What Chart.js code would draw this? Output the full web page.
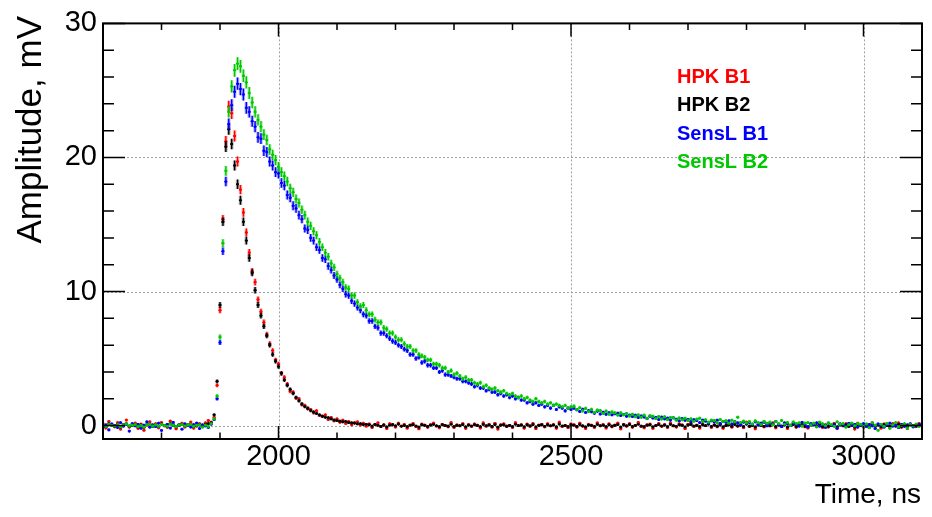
<!DOCTYPE html>
<html>
<head>
<meta charset="utf-8">
<script src="https://cdn.jsdelivr.net/npm/chart.js@4.4.1/dist/chart.umd.min.js"></script>
<style>
  html, body { margin: 0; padding: 0; background: #fff; }
</style>
</head>
<body>
<canvas id="myChart" width="932" height="517"></canvas>
<script>
// time bins (ns): first bin centre and bin width
const binStart = 1700;
const binWidth = 5;

// amplitudes in mV, one value per bin
const hpkB1 = [
  0.12, -0.18, 0.31, 0.02, -0.09, 0.22, -0.27, 0.08, 0.41, -0.12, 0.04, 0.19, -0.21, 0.11, -0.35, 0.03, 0.28, -0.08, 0.14, -0.17,
  0.23, -0.02, -0.13, 0.33, 0.09, -0.24, 0.01, 0.18, -0.11, 0.07, 0.26, -0.19, -0.04, 0.15, -0.07, 0.21, 0.38,
  0.25, 0.60, 3.00, 8.60, 15.40, 21.20, 23.80, 23.30, 21.60, 19.70, 17.60, 15.90, 14.40, 12.90, 11.50, 10.70, 9.40, 8.50, 7.70, 6.80,
  6.10, 5.60, 4.90, 4.60, 3.90, 3.60, 3.10, 2.55, 2.50, 2.05, 2.00, 1.55, 1.50, 1.25, 1.20, 0.95, 1.10, 0.75, 0.70, 0.80,
  0.45, 0.60, 0.35, 0.50, 0.25, 0.40, 0.15, 0.30, 0.05, 0.22, 0.28, 0.04, 0.18, -0.05,
  0.12, -0.15, 0.08, 0.21, -0.06, 0.03, -0.22, 0.14, 0.05, -0.11, 0.18, -0.03, 0.09, -0.19, 0.02, 0.16, -0.08, -0.24, 0.11, 0.04,
  -0.13, 0.07, 0.19, -0.05, -0.17, 0.10, 0.01, -0.09, 0.23, -0.14, 0.06, -0.02, 0.15, -0.21, 0.08, -0.07, 0.12, 0.03, -0.18, 0.20,
  -0.04, 0.09, -0.12, 0.17, -0.26, 0.05, 0.13, -0.08, 0.02, -0.15, 0.22, -0.01, 0.07, -0.19, 0.11, -0.06, 0.16, -0.23, 0.04, 0.10,
  -0.10, 0.14, -0.03, 0.08, -0.20, 0.25, -0.07, 0.01, -0.16, 0.12, 0.06, -0.12, 0.18, -0.05, -0.22, 0.09, 0.03, -0.14, 0.21, -0.02,
  0.07, -0.18, 0.13, -0.09, 0.04, 0.19, -0.25, 0.10, -0.04, 0.15, -0.13, 0.02, 0.24, -0.08, -0.17, 0.06, 0.11, -0.21, 0.00, 0.16,
  -0.06, 0.08, -0.15, 0.20, -0.02, -0.11, 0.13, 0.05, -0.23, 0.09, 0.17, -0.07, 0.03, -0.19, 0.12, -0.01, 0.22, -0.14, 0.06, -0.09,
  0.14, -0.20, 0.01, 0.10, -0.12, 0.18, -0.05, 0.07, -0.16, 0.25, -0.08, 0.03, -0.24, 0.11, 0.05, -0.10, 0.15, -0.03, 0.20, -0.17,
  0.09, -0.06, 0.12, -0.22, 0.04, 0.16, -0.13, 0.02, 0.19, -0.09, -0.18, 0.08, 0.13, -0.04, 0.23, -0.15, 0.06, -0.11, 0.01, 0.17,
  -0.21, 0.10, -0.02, 0.14, -0.08, 0.05, -0.26, 0.18, 0.03, -0.12, 0.09, -0.16, 0.21, -0.05, 0.07, -0.19, 0.12, 0.00, -0.10, 0.15,
  -0.04, 0.20, -0.13, 0.06, -0.22, 0.11, 0.02, -0.08, 0.16
];

const hpkB2 = [
  0.05, -0.08, 0.12, 0.02, -0.04, 0.09, -0.11, 0.06, 0.14, -0.03, 0.01, 0.08, -0.10, 0.04, -0.13, 0.07, 0.10, -0.05, 0.03, -0.07,
  0.11, 0.00, -0.06, 0.13, 0.02, -0.09, 0.05, 0.08, -0.02, 0.04, 0.10, -0.07, 0.01, 0.06, -0.04, 0.09, 0.15,
  0.20, 0.80, 3.30, 9.00, 15.20, 20.80, 22.10, 21.00, 19.40, 18.00, 16.80, 15.20, 13.80, 12.50, 11.40, 10.10, 9.00, 8.20, 7.40, 6.70,
  6.00, 5.30, 4.80, 4.40, 3.90, 3.40, 3.00, 2.70, 2.40, 2.10, 1.85, 1.62, 1.42, 1.30, 1.12, 1.02, 0.90, 0.80, 0.70, 0.62,
  0.58, 0.50, 0.42, 0.38, 0.33, 0.28, 0.30, 0.22, 0.20, 0.18, 0.12, 0.14, 0.08, 0.10,
  0.06, -0.04, 0.09, 0.02, -0.07, 0.05, -0.10, 0.03, 0.08, -0.02, 0.11, -0.05, 0.01, -0.08, 0.04, 0.07, -0.03, -0.11, 0.05, 0.02,
  -0.06, 0.03, 0.09, -0.01, -0.08, 0.06, 0.00, -0.04, 0.10, -0.07, 0.02, -0.01, 0.07, -0.09, 0.04, -0.03, 0.06, 0.01, -0.08, 0.09,
  -0.02, 0.04, -0.06, 0.08, -0.12, 0.03, 0.06, -0.04, 0.01, -0.07, 0.10, 0.00, 0.03, -0.09, 0.05, -0.02, 0.07, -0.10, 0.02, 0.05,
  -0.05, 0.06, -0.01, 0.04, -0.09, 0.11, -0.03, 0.00, -0.07, 0.05, 0.03, -0.06, 0.08, -0.02, -0.10, 0.04, 0.01, -0.06, 0.09, -0.01,
  0.03, -0.08, 0.06, -0.04, 0.02, 0.08, -0.11, 0.05, -0.02, 0.07, -0.06, 0.01, 0.10, -0.03, -0.08, 0.03, 0.05, -0.09, 0.00, 0.07,
  -0.03, 0.04, -0.07, 0.09, -0.01, -0.05, 0.06, 0.02, -0.10, 0.04, 0.08, -0.03, 0.01, -0.08, 0.05, 0.00, 0.10, -0.06, 0.03, -0.04,
  0.06, -0.09, 0.00, 0.05, -0.05, 0.08, -0.02, 0.03, -0.07, 0.11, -0.04, 0.01, -0.10, 0.05, 0.02, -0.05, 0.07, -0.01, 0.09, -0.08,
  0.04, -0.03, 0.05, -0.10, 0.02, 0.07, -0.06, 0.01, 0.08, -0.04, -0.08, 0.04, 0.06, -0.02, 0.10, -0.07, 0.03, -0.05, 0.00, 0.08,
  -0.09, 0.05, -0.01, 0.06, -0.04, 0.02, -0.11, 0.08, 0.01, -0.05, 0.04, -0.07, 0.09, -0.02, 0.03, -0.08, 0.05, 0.00, -0.04, 0.07,
  -0.02, 0.09, -0.06, 0.03, -0.10, 0.05, 0.01, -0.03, 0.07
];

const sensLB1 = [
  -0.10, 0.05, -0.32, 0.12, 0.02, -0.15, 0.22, -0.05, 0.08, -0.41, 0.15, -0.02, 0.09, -0.20, 0.03, 0.28, -0.12, 0.06, -0.08, 0.18,
  -0.36, 0.01, 0.10, -0.18, 0.24, -0.06, 0.04, -0.27, 0.13, 0.00, -0.11, 0.07, 0.19, -0.22, 0.05, -0.03, -0.14, 0.10,
  0.45, 2.0, 6.2, 13.0, 18.2, 22.5, 23.9, 24.9, 25.5, 25.1, 24.7, 23.7, 23.4, 22.7, 22.3, 21.5, 21.4, 20.5, 20.4, 19.7, 19.4, 18.9,
  18.8, 18.1, 17.9, 17.2, 17.0, 16.4, 16.2, 15.7, 15.4, 14.7, 14.6, 14.0, 13.8, 13.3, 13.1, 12.5, 12.4, 11.9, 11.6, 11.2,
  10.9, 10.5, 10.2, 9.8, 9.7, 9.3, 9.1, 8.8, 8.6, 8.3, 8.2, 7.8, 7.8, 7.4, 7.3, 6.9, 6.9, 6.7, 6.5, 6.3,
  6.2, 6.0, 5.9, 5.7, 5.6, 5.3, 5.3, 5.0, 5.1, 4.7, 4.8, 4.5, 4.5, 4.3, 4.3, 4.0, 4.1, 3.8, 3.8, 3.7,
  3.6, 3.5, 3.5, 3.3, 3.3, 3.2, 3.1, 2.9, 3.0, 2.8, 2.8, 2.6, 2.7, 2.5, 2.5, 2.3, 2.4, 2.2, 2.3, 2.1,
  2.2, 2.0, 2.1, 1.9, 1.9, 1.7, 1.8, 1.6, 1.7, 1.5, 1.6, 1.4, 1.5, 1.3, 1.5, 1.2, 1.4, 1.3, 1.1, 1.3, 1.2,
  1.30, 1.18, 1.05, 1.22, 0.98, 1.12, 1.04, 0.92, 1.08, 0.87, 0.99, 0.84, 0.95, 0.80, 0.88, 0.92, 0.75, 0.83, 0.70, 0.78,
  0.68, 0.77, 0.60, 0.71, 0.64, 0.52, 0.69, 0.57, 0.61, 0.45, 0.63, 0.50, 0.56, 0.42, 0.58, 0.47, 0.35, 0.52, 0.40, 0.46,
  0.30, 0.44, 0.38, 0.22, 0.41, 0.33, 0.18, 0.36, 0.27, 0.40, 0.15, 0.31, 0.24, 0.35, 0.12, 0.29, 0.20, 0.07, 0.26, 0.16,
  0.23, 0.10, 0.28, 0.04, 0.19, 0.25, -0.02, 0.17, 0.11, 0.30, 0.06, -0.08, 0.21, 0.14, 0.00, 0.18, 0.09, -0.05, 0.24, 0.07,
  -0.10, 0.15, 0.05, 0.20, -0.04, 0.11, -0.14, 0.18, 0.02, 0.08, -0.20, 0.13, 0.04, -0.07, 0.17, 0.01, 0.10, -0.12, 0.06, 0.15,
  -0.08, 0.09, -0.02, -0.22, 0.12, 0.04, -0.12, 0.07, 0.18, -0.04, 0.02, -0.16, 0.10, -0.06, 0.05, 0.13, -0.10, 0.03, 0.08
];

const sensLB2 = [
  0.04, -0.06, 0.10, 0.01, -0.03, 0.08, -0.09, 0.05, 0.12, -0.02, 0.03, 0.07, -0.08, 0.02, -0.11, 0.06, 0.09, -0.04, 0.05, -0.06,
  0.10, 0.00, -0.05, 0.11, 0.03, -0.08, 0.04, 0.07, -0.03, 0.05, 0.09, -0.06, 0.02, 0.06, -0.12, 0.04, -0.07, 0.15,
  0.5, 2.2, 6.6, 13.6, 19.0, 23.4, 25.3, 26.5, 27.0, 26.8, 26.1, 25.6, 24.8, 24.1, 23.4, 22.8, 22.3, 21.7, 21.3, 20.6, 20.2, 19.8,
  19.3, 18.9, 18.6, 18.2, 17.7, 17.4, 16.9, 16.6, 16.1, 15.7, 15.2, 14.9, 14.5, 14.2, 13.7, 13.3, 12.9, 12.6, 12.1, 11.8,
  11.3, 11.0, 10.7, 10.3, 10.2, 9.7, 9.7, 9.2, 8.9, 9.0, 8.6, 8.3, 8.3, 7.9, 7.7, 7.7, 7.3, 7.2, 6.9, 6.9,
  6.6, 6.4, 6.4, 6.1, 5.9, 5.9, 5.6, 5.6, 5.3, 5.2, 5.1, 4.9, 4.9, 4.6, 4.6, 4.5, 4.3, 4.3, 4.0, 4.1,
  3.8, 3.9, 3.7, 3.5, 3.6, 3.4, 3.4, 3.2, 3.1, 3.2, 2.9, 3.0, 2.8, 2.7, 2.8, 2.6, 2.5, 2.6, 2.4, 2.3,
  2.4, 2.2, 2.1, 2.2, 2.0, 2.1, 1.9, 1.8, 2.0, 1.8, 1.7, 1.8, 1.6, 1.7, 1.5, 1.6, 1.5, 1.4, 1.5, 1.3, 1.4,
  1.45, 1.20, 1.33, 1.10, 1.28, 1.05, 1.21, 0.98, 1.15, 1.12, 0.90, 1.08, 0.85, 1.02, 0.96, 0.78, 0.95, 0.80, 0.91, 0.72,
  0.85, 0.66, 0.80, 0.62, 0.78, 0.55, 0.73, 0.70, 0.52, 0.68, 0.49, 0.66, 0.44, 0.60, 0.58, 0.40, 0.57, 0.43, 0.55, 0.38,
  0.50, 0.32, 0.48, 0.55, 0.30, 0.44, 0.26, 0.41, 0.38, 0.22, 0.45, 0.30, 0.36, 0.18, 0.40, 0.28, 0.62, 0.24, 0.33, 0.20,
  0.30, 0.12, 0.35, 0.22, 0.08, 0.31, 0.18, 0.26, 0.05, 0.29, 0.15, 0.38, 0.10, 0.24, 0.02, 0.27, 0.16, 0.21, -0.04, 0.19,
  0.22, 0.05, 0.18, -0.10, 0.25, 0.12, 0.00, 0.20, 0.08, -0.06, 0.28, 0.10, 0.15, -0.12, 0.06, 0.19, -0.02, 0.14, 0.09, -0.08,
  0.12, -0.15, 0.20, 0.03, -0.35, 0.10, -0.05, 0.16, -0.20, 0.06, 0.22, -0.10, 0.02, 0.14, -0.18, 0.08, -0.02, 0.11, -0.06
];

const seriesLabels = ['HPK B1', 'HPK B2', 'SensL B1', 'SensL B2'];
const seriesColors = ['#ff0000', '#000000', '#0000ff', '#00c800'];
const seriesData = [hpkB1, hpkB2, sensLB1, sensLB2];

// axes
const xRange = [1700, 3100];
const yRange = [-1, 30];
const xTickValues = [2000, 2500, 3000];
const yTickValues = [0, 10, 20, 30];
const xMinorStep = 100;
const yMinorStep = 2;

const times = hpkB1.map((_, i) => binStart + i * binWidth);
const FONT = "'Liberation Sans', Arial, Helvetica, sans-serif";

// rough statistical error of each bin, grows with the signal
function errorFor(v) {
    return 0.1 + 0.014 * Math.abs(v);
}

const errorBars = {
    id: 'errorBars',
    afterDatasetDraw(chart, args) {
        const ctx = chart.ctx;
        const xs = chart.scales.x;
        const ys = chart.scales.y;
        const area = chart.chartArea;
        const ds = chart.data.datasets[args.index];
        ctx.save();
        ctx.beginPath();
        ctx.rect(area.left, area.top, area.right - area.left, area.bottom - area.top);
        ctx.clip();
        ctx.strokeStyle = ds.borderColor;
        for (const pass of [{ w: 3.5, a: 0.3 }, { w: 1.4, a: 1 }]) {
            ctx.lineWidth = pass.w;
            ctx.globalAlpha = pass.a;
            ctx.beginPath();
            ds.data.forEach(p => {
                const e = errorFor(p.y);
                const px = xs.getPixelForValue(p.x);
                const py = ys.getPixelForValue(p.y);
                ctx.moveTo(px, ys.getPixelForValue(p.y - e));
                ctx.lineTo(px, ys.getPixelForValue(p.y + e));
                if (pass.a === 1) {
                    ctx.moveTo(xs.getPixelForValue(p.x - binWidth / 2), py);
                    ctx.lineTo(xs.getPixelForValue(p.x + binWidth / 2), py);
                }
            });
            ctx.stroke();
        }
        ctx.restore();
    }
};

// ROOT style frame: dotted grid, inward ticks on all four sides, titles, legend
const rootFrame = {
    id: 'rootFrame',
    beforeDatasetsDraw(chart) {
        const ctx = chart.ctx;
        const a = chart.chartArea;
        const xs = chart.scales.x;
        const ys = chart.scales.y;
        ctx.save();
        ctx.strokeStyle = '#a0a0a0';
        ctx.lineWidth = 1;
        ctx.setLineDash([2, 2]);
        ctx.beginPath();
        xTickValues.forEach(v => {
            const x = Math.round(xs.getPixelForValue(v)) + 0.5;
            ctx.moveTo(x, a.top);
            ctx.lineTo(x, a.bottom);
        });
        yTickValues.forEach(v => {
            if (v >= yRange[1]) return;
            const y = Math.round(ys.getPixelForValue(v)) + 0.5;
            ctx.moveTo(a.left, y);
            ctx.lineTo(a.right, y);
        });
        ctx.stroke();
        ctx.restore();
    },
    afterDatasetsDraw(chart) {
        const ctx = chart.ctx;
        const a = chart.chartArea;
        const xs = chart.scales.x;
        const ys = chart.scales.y;
        ctx.save();
        ctx.strokeStyle = '#000';
        ctx.lineWidth = 1.5;
        ctx.beginPath();
        for (let v = xRange[0]; v <= xRange[1]; v += xMinorStep) {
            const len = xTickValues.includes(v) ? 13 : 6.5;
            const x = xs.getPixelForValue(v);
            ctx.moveTo(x, a.bottom);
            ctx.lineTo(x, a.bottom - len);
            ctx.moveTo(x, a.top);
            ctx.lineTo(x, a.top + len);
        }
        for (let v = 0; v <= yRange[1]; v += yMinorStep) {
            const len = yTickValues.includes(v) ? 22 : 11;
            const y = ys.getPixelForValue(v);
            ctx.moveTo(a.left, y);
            ctx.lineTo(a.left + len, y);
            ctx.moveTo(a.right, y);
            ctx.lineTo(a.right - len, y);
        }
        ctx.stroke();
        ctx.lineWidth = 2;
        ctx.strokeRect(a.left, a.top, a.right - a.left, a.bottom - a.top);
        ctx.restore();
    },
    afterDraw(chart) {
        const ctx = chart.ctx;
        ctx.save();
        ctx.fillStyle = '#000';
        ctx.font = '28px ' + FONT;
        ctx.textAlign = 'right';
        ctx.textBaseline = 'alphabetic';
        ctx.fillText('Time, ns', 921, 503);

        ctx.save();
        ctx.translate(41, 16);
        ctx.rotate(-Math.PI / 2);
        ctx.font = '35px ' + FONT;
        ctx.textAlign = 'right';
        ctx.fillText('Amplitude, mV', 0, 0);
        ctx.restore();

        ctx.font = 'bold 20px ' + FONT;
        ctx.textAlign = 'left';
        const baselines = [83, 111, 140, 168];
        chart.data.datasets.forEach((ds, i) => {
            ctx.fillStyle = ds.borderColor;
            ctx.fillText(ds.label, 677, baselines[i]);
        });
        ctx.restore();
    }
};

const ctx = document.getElementById('myChart').getContext('2d');
const myChart = new Chart(ctx, {
    type: 'scatter',
    data: {
        datasets: seriesData.map((values, i) => ({
            label: seriesLabels[i],
            data: times.map((t, j) => ({ x: t, y: values[j] })),
            borderColor: seriesColors[i],
            backgroundColor: seriesColors[i],
            pointRadius: 1.3,
            pointBorderWidth: 0,
            showLine: false,
            order: 4 - i
        }))
    },
    options: {
        responsive: false,
        animation: false,
        events: [],
        layout: { padding: { top: 23, right: 10, left: 0, bottom: 0 } },
        plugins: { legend: { display: false }, tooltip: { enabled: false } },
        scales: {
            x: {
                type: 'linear',
                min: xRange[0],
                max: xRange[1],
                afterFit: s => { s.height = 78; },
                afterBuildTicks: s => { s.ticks = xTickValues.map(v => ({ value: v })); },
                grid: { display: false, drawTicks: false },
                border: { display: false },
                ticks: {
                    autoSkip: false,
                    maxRotation: 0,
                    padding: 1,
                    color: '#000',
                    font: { family: FONT, size: 29 },
                    callback: v => String(v)
                }
            },
            y: {
                type: 'linear',
                min: yRange[0],
                max: yRange[1],
                afterFit: s => { s.width = 103; },
                afterBuildTicks: s => { s.ticks = yTickValues.map(v => ({ value: v })); },
                grid: { display: false, drawTicks: false },
                border: { display: false },
                ticks: {
                    autoSkip: false,
                    padding: 6,
                    color: '#000',
                    font: { family: FONT, size: 29 },
                    callback: v => String(v)
                }
            }
        }
    },
    plugins: [errorBars, rootFrame]
});
</script>
</body>
</html>
